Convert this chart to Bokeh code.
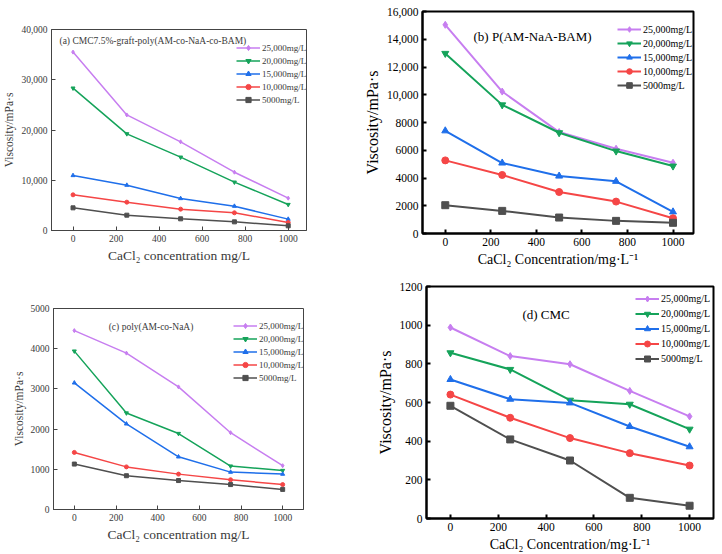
from bokeh.plotting import figure
from bokeh.layouts import column, row
from bokeh.models import Range1d, FixedTicker, Legend, LegendItem, Label
from bokeh.embed import file_html
from bokeh.resources import INLINE

# CaCl2 concentration (mg/L)
conc = [0, 250, 500, 750, 1000]
x_ticks = [0, 200, 400, 600, 800, 1000]

# polymer concentrations (legend labels)
series_labels = ["25,000mg/L", "20,000mg/L", "15,000mg/L", "10,000mg/L", "5000mg/L"]

# (a) CMC7.5%-graft-poly(AM-co-NaA-co-BAM), viscosity mPa·s
a_25000 = [35500, 23000, 17650, 11600, 6430]
a_20000 = [28330, 19240, 14590, 9620, 5170]
a_15000 = [10950, 9020, 6370, 4840, 2260]
a_10000 = [7100, 5640, 4250, 3520, 1590]
a_5000 = [4510, 3050, 2320, 1720, 930]
a_yticks = [0, 10000, 20000, 30000, 40000]
a_ylabels = ["0", "10,000", "20,000", "30,000", "40,000"]

# (b) P(AM-NaA-BAM)
b_25000 = [15040, 10230, 7310, 6110, 5100]
b_20000 = [12980, 9270, 7260, 5940, 4860]
b_15000 = [7400, 5080, 4140, 3760, 1560]
b_10000 = [5270, 4220, 2990, 2300, 1100]
b_5000 = [2040, 1630, 1150, 910, 770]
b_yticks = [0, 2000, 4000, 6000, 8000, 10000, 12000, 14000, 16000]
b_ylabels = ["0", "2000", "4000", "6000", "8000", "10,000", "12,000", "14,000", "16,000"]

# (c) poly(AM-co-NaA)
c_25000 = [4450, 3890, 3050, 1910, 1090]
c_20000 = [3940, 2400, 1890, 1080, 970]
c_15000 = [3150, 2130, 1310, 930, 880]
c_10000 = [1420, 1060, 880, 740, 620]
c_5000 = [1130, 840, 720, 620, 500]
c_yticks = [0, 1000, 2000, 3000, 4000, 5000]
c_ylabels = ["0", "1000", "2000", "3000", "4000", "5000"]

# (d) CMC
d_25000 = [988, 840, 798, 660, 528]
d_20000 = [857, 771, 612, 591, 462]
d_15000 = [719, 617, 598, 476, 371]
d_10000 = [641, 521, 416, 338, 274]
d_5000 = [583, 409, 300, 107, 66]
d_yticks = [0, 200, 400, 600, 800, 1000, 1200]
d_ylabels = ["0", "200", "400", "600", "800", "1000", "1200"]

colors = ["#c77ef0", "#15a35a", "#1f6fea", "#f54646", "#4f4f4f"]
markers = ["diamond", "inverted_triangle", "triangle", "circle", "square"]
FONT = "Liberation Serif"


def make_panel(series, title, xlabel, yticks, ylabels, xr, yr, width, height,
               borders, legend_loc, legend_pitch, bold, title_xy, title_size):
    left, right, top, bottom = borders
    p = figure(width=width, height=height, output_backend="svg",
               toolbar_location=None, x_range=Range1d(*xr), y_range=Range1d(*yr),
               min_border_left=left, min_border_right=right,
               min_border_top=top, min_border_bottom=bottom,
               frame_align=False)
    p.grid.visible = False
    p.background_fill_color = "white"
    p.border_fill_color = "white"
    frame_color = "black" if bold else "#444444"
    text_color = "black" if bold else "#3a3a3a"
    p.outline_line_color = frame_color
    p.outline_line_width = 2 if bold else 1
    p.outline_line_alpha = 1

    tick_size = "11.5px" if bold else "9.5px"
    for ax in (p.xaxis[0], p.yaxis[0]):
        ax.axis_line_color = frame_color
        ax.axis_line_width = 2 if bold else 1
        ax.major_tick_in = 4
        ax.major_tick_out = 0
        ax.major_tick_line_color = frame_color
        ax.major_tick_line_width = 2 if bold else 1
        ax.minor_tick_line_color = None
        ax.major_label_text_font = FONT
        ax.major_label_text_font_size = tick_size
        ax.major_label_text_color = text_color
        ax.major_label_standoff = 4
        ax.axis_label_text_font = FONT
        ax.axis_label_text_font_style = "normal"
        ax.axis_label_text_color = text_color
        ax.axis_label_standoff = 3

    p.xaxis.ticker = FixedTicker(ticks=x_ticks)
    p.yaxis.ticker = FixedTicker(ticks=yticks)
    p.yaxis.major_label_overrides = {t: s for t, s in zip(yticks, ylabels)}
    p.xaxis.axis_label = xlabel
    p.yaxis.axis_label = "Viscosity/mPa·s"
    p.xaxis.axis_label_text_font_size = "14px" if bold else "13.5px"
    p.yaxis.axis_label_text_font_size = "16px" if bold else "11.5px"

    items = []
    lw = 2 if bold else 1.5
    msize = 7 if bold else 4
    for vals, lab, col, mk in zip(series, series_labels, colors, markers):
        ln = p.line(conc, vals, line_color=col, line_width=lw)
        sc = p.scatter(conc, vals, marker=mk, size=msize, fill_color=col,
                       line_color=col)
        items.append(LegendItem(label=lab, renderers=[ln, sc]))

    lg = Legend(items=items, location=legend_loc, orientation="vertical",
                glyph_width=24, glyph_height=legend_pitch,
                label_height=legend_pitch, spacing=0, padding=0, margin=0,
                label_standoff=2, border_line_alpha=0,
                background_fill_alpha=0,
                label_text_font=FONT,
                label_text_font_size="10px" if bold else "9px",
                label_text_color=text_color)
    p.add_layout(lg)

    p.add_layout(Label(x=title_xy[0], y=title_xy[1], text=title,
                       text_font=FONT, text_font_size=title_size,
                       text_color=text_color, text_baseline="middle"))
    return p


pa = make_panel([a_25000, a_20000, a_15000, a_10000, a_5000],
                "(a) CMC7.5%-graft-poly(AM-co-NaA-co-BAM)",
                "CaCl₂ concentration mg/L", a_yticks, a_ylabels,
                (-100, 1085), (0, 40000), 360, 270, (48, 54, 29, 40),
                (185, 124), 13, False, (-63, 37800), "9.5px")

pb = make_panel([b_25000, b_20000, b_15000, b_10000, b_5000],
                "(b) P(AM-NaA-BAM)",
                "CaCl₂ Concentration/mg·L⁻¹", b_yticks, b_ylabels,
                (-100, 1090), (0, 16000), 362, 270, (59, 29, 11, 37),
                (195, 141), 14, True, (124, 14175), "13px")

pc = make_panel([c_25000, c_20000, c_15000, c_10000, c_5000],
                "(c) poly(AM-co-NaA)",
                "CaCl₂ concentration mg/L", c_yticks, c_ylabels,
                (-100, 1100), (0, 5000), 360, 284, (53, 57, 38, 45),
                (180, 125), 13, False, (165, 4543), "9.5px")

pd_ = make_panel([d_25000, d_20000, d_15000, d_10000, d_5000],
                 "(d) CMC",
                 "CaCl₂ Concentration/mg·L⁻¹", d_yticks, d_ylabels,
                 (-100, 1100), (0, 1200), 362, 284, (66, 9, 16, 36),
                 (209, 152), 15, True, (301, 1057), "13px")

layout = column(row(pa, pb, spacing=0), row(pc, pd_, spacing=0), spacing=0)

open("out.html", "w").write(file_html(layout, INLINE))
